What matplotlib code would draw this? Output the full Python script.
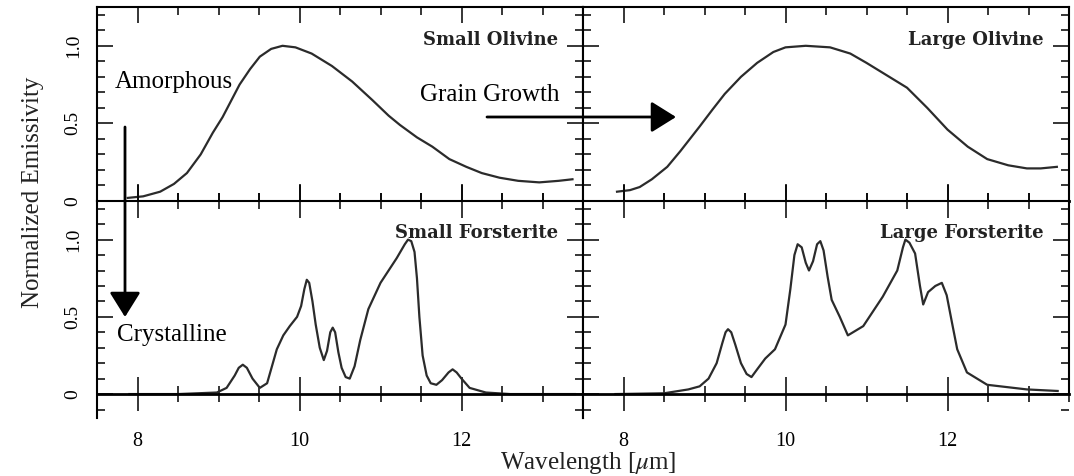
import matplotlib.pyplot as plt
from matplotlib.patches import FancyArrowPatch, ArrowStyle
from matplotlib.ticker import MultipleLocator

# Emissivity spectra, wavelength in micron
small_olivine_x = [7.88, 8.07, 8.28, 8.45, 8.61, 8.78, 8.93, 9.05, 9.14, 9.26, 9.39, 9.51, 9.65,
                   9.79, 9.95, 10.15, 10.4, 10.65, 10.9, 11.1, 11.24, 11.45, 11.64, 11.85, 12.06,
                   12.25, 12.47, 12.7, 12.96, 13.2, 13.37]
small_olivine_y = [0.02, 0.03, 0.06, 0.11, 0.18, 0.30, 0.44, 0.54, 0.63, 0.75, 0.85, 0.93, 0.98,
                   1.0, 0.99, 0.95, 0.87, 0.77, 0.65, 0.55, 0.49, 0.41, 0.35, 0.27, 0.22,
                   0.18, 0.15, 0.13, 0.12, 0.13, 0.14]

large_olivine_x = [7.92, 8.08, 8.2, 8.35, 8.54, 8.7, 8.82, 8.94, 9.1, 9.25, 9.45, 9.65, 9.85,
                   10.0, 10.25, 10.55, 10.8, 11.0, 11.25, 11.5, 11.75, 12.0, 12.25, 12.49,
                   12.75, 12.98, 13.15, 13.35]
large_olivine_y = [0.06, 0.07, 0.09, 0.14, 0.22, 0.32, 0.40, 0.48, 0.59, 0.69, 0.80, 0.89, 0.96,
                   0.99, 1.0, 0.99, 0.95, 0.89, 0.81, 0.73, 0.60, 0.46, 0.35, 0.27,
                   0.23, 0.21, 0.21, 0.22]

small_forst_x = [7.9, 8.5, 8.98, 9.1, 9.2, 9.25, 9.3, 9.35, 9.42, 9.51, 9.6, 9.72, 9.8, 9.88,
                 9.97, 10.02, 10.06, 10.09, 10.12, 10.16, 10.2, 10.25, 10.3, 10.34, 10.38, 10.41,
                 10.44, 10.48, 10.52, 10.57, 10.62, 10.68, 10.75, 10.85, 11.0, 11.1, 11.2,
                 11.3, 11.34, 11.38, 11.42, 11.45, 11.48, 11.52, 11.57, 11.62, 11.69, 11.76,
                 11.84, 11.89, 11.94, 12.0, 12.1, 12.3, 12.6, 13.0, 13.4]
small_forst_y = [0.0, 0.0, 0.01, 0.04, 0.12, 0.17, 0.19, 0.17, 0.10, 0.04, 0.07, 0.29, 0.38, 0.44,
                 0.50, 0.57, 0.68, 0.74, 0.72, 0.60, 0.45, 0.30, 0.22, 0.28, 0.40, 0.43,
                 0.40, 0.27, 0.17, 0.11, 0.10, 0.18, 0.35, 0.55, 0.72, 0.80, 0.88,
                 0.97, 1.0, 0.99, 0.92, 0.75, 0.50, 0.25, 0.12, 0.07, 0.06, 0.09,
                 0.14, 0.16, 0.14, 0.10, 0.04, 0.01, 0.0, 0.0, 0.0]

large_forst_x = [7.9, 8.5, 8.8, 8.94, 9.05, 9.15, 9.22, 9.26, 9.29, 9.33, 9.38, 9.45, 9.52, 9.58,
                 9.65, 9.75, 9.87, 10.0, 10.06, 10.11, 10.15, 10.2, 10.25, 10.29, 10.34, 10.39,
                 10.43, 10.47, 10.52, 10.57, 10.67, 10.77, 10.96, 11.2, 11.38, 11.45, 11.48,
                 11.53, 11.6, 11.66, 11.7, 11.76, 11.85, 11.93, 11.99, 12.06, 12.12, 12.24,
                 12.49, 12.98, 13.36]
large_forst_y = [0.0, 0.005, 0.03, 0.05, 0.10, 0.20, 0.33, 0.40, 0.42, 0.40, 0.32, 0.20, 0.13, 0.11,
                 0.16, 0.23, 0.29, 0.45, 0.68, 0.90, 0.97, 0.95, 0.85, 0.80, 0.86, 0.97,
                 0.99, 0.93, 0.76, 0.61, 0.50, 0.38, 0.44, 0.63, 0.80, 0.95, 1.0,
                 0.98, 0.91, 0.70, 0.58, 0.66, 0.70, 0.72, 0.64, 0.45, 0.29, 0.14,
                 0.06, 0.03, 0.02]

panel_titles = ["Small Olivine", "Large Olivine", "Small Forsterite", "Large Forsterite"]
x_ticks = [8, 10, 12]
y_ticks = [0, 0.5, 1.0]
y_ticklabels = ["0", "0.5", "1.0"]

W, H = 1074, 476
plt.rcParams['font.family'] = ['Liberation Serif', 'DejaVu Serif']
plt.rcParams['mathtext.fontset'] = 'stix'


def fx(x):
    return x / W


def fy(y):
    return 1 - y / H


def style_axes(ax, top_row, left_col):
    ax.set_xlim(7.5, 13.5)
    ax.xaxis.set_major_locator(MultipleLocator(2))
    ax.xaxis.set_minor_locator(MultipleLocator(0.5))
    ax.yaxis.set_major_locator(MultipleLocator(0.5))
    ax.yaxis.set_minor_locator(MultipleLocator(0.1))
    for s in ax.spines.values():
        s.set_linewidth(1.5)
    if top_row:
        ax.set_ylim(0, 1.25)
        ax.tick_params(axis='x', which='major', direction='in', length=11.5, width=1.1,
                       top=True, bottom=True, labelbottom=False)
        ax.tick_params(axis='x', which='minor', direction='in', length=5.8, width=1.1,
                       top=True, bottom=True)
        ax.spines['bottom'].set_linewidth(2)
    else:
        ax.set_ylim(-0.155, 1.25)
        ax.spines['bottom'].set_position(('data', 0))
        ax.spines['bottom'].set_linewidth(2)
        ax.tick_params(axis='x', which='major', direction='inout', length=24.5, width=1.1,
                       top=True, bottom=True, labelbottom=True, labelsize=14.5, pad=15)
        ax.tick_params(axis='x', which='minor', direction='inout', length=11, width=1.1,
                       top=True, bottom=True)
        ax.set_xticks(x_ticks)
        ax.set_xticklabels([str(t) for t in x_ticks])
        if not left_col:
            ax.spines['right'].set_bounds(0, 1.25)
    ax.tick_params(axis='y', which='major', direction='in', length=11.5, width=1.1,
                   left=True, right=True)
    ax.tick_params(axis='y', which='minor', direction='in', length=5.8, width=1.1,
                   left=True, right=True)
    if left_col:
        ax.set_yticks(y_ticks)
        ax.set_yticklabels(y_ticklabels)
        ax.tick_params(axis='y', labelsize=14, pad=11)
        plt.setp(ax.get_yticklabels(), rotation=90, va='center')
    else:
        ax.tick_params(axis='y', labelleft=False)


def main():
    fig = plt.figure(figsize=(W / 100, H / 100), dpi=100)

    pw = 486
    top_h, bot_h = 194, 217
    ax_so = fig.add_axes([fx(97), fy(201), pw / W, top_h / H])
    ax_lo = fig.add_axes([fx(583), fy(201), pw / W, top_h / H])
    ax_sf = fig.add_axes([fx(97), fy(418), pw / W, bot_h / H])
    ax_lf = fig.add_axes([fx(583), fy(418), pw / W, bot_h / H])

    curves = [(ax_so, small_olivine_x, small_olivine_y),
              (ax_lo, large_olivine_x, large_olivine_y),
              (ax_sf, small_forst_x, small_forst_y),
              (ax_lf, large_forst_x, large_forst_y)]

    for i, (ax, xs, ys) in enumerate(curves):
        style_axes(ax, top_row=(i < 2), left_col=(i % 2 == 0))
        ax.plot(xs, ys, color='#2b2b2b', lw=1.6, solid_joinstyle='round')
        ax.text(13.19, 1.04, panel_titles[i], ha='right', va='center',
                fontsize=13, fontweight='bold', family='DejaVu Serif', color='#222222')

    # annotations spanning the panels
    fig.text(fx(115), fy(82), "Amorphous", fontsize=18, ha='left', va='center')
    fig.text(fx(117), fy(335), "Crystalline", fontsize=18, ha='left', va='center')
    fig.text(fx(420), fy(95), "Grain Growth", fontsize=18, ha='left', va='center')

    head = ArrowStyle('-|>', head_length=0.85, head_width=0.53)
    fig.add_artist(FancyArrowPatch((fx(125), fy(127)), (fx(125), fy(317)),
                                   transform=fig.transFigure, arrowstyle=head,
                                   mutation_scale=18, lw=2, color='black',
                                   shrinkA=0, shrinkB=0))
    fig.add_artist(FancyArrowPatch((fx(487), fy(117)), (fx(676), fy(117)),
                                   transform=fig.transFigure, arrowstyle=head,
                                   mutation_scale=18, lw=2, color='black',
                                   shrinkA=0, shrinkB=0))

    fig.text(fx(33), fy(192), "Normalized Emissivity", fontsize=18, rotation=90,
             ha='center', va='center', color='#222222')
    fig.text(fx(588), fy(463), "Wavelength [$\\mu$m]", fontsize=18,
             ha='center', va='center', color='#222222')

    fig.savefig("out.png", dpi=100)


if __name__ == "__main__":
    main()
